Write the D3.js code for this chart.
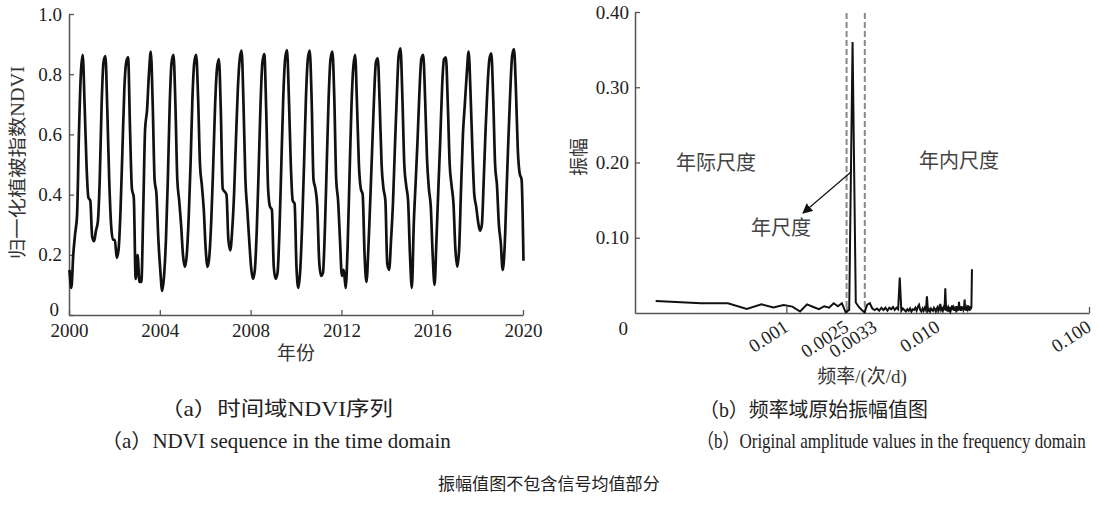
<!DOCTYPE html>
<html>
<head>
<meta charset="utf-8">
<script src="https://cdn.jsdelivr.net/npm/d3@7"></script>
<style>
  html, body { margin: 0; padding: 0; background: #fff; }
  svg { display: block; }
  .serif { font-family: "Liberation Serif", "Noto Sans CJK SC", serif; }
  .cjk { font-family: "Liberation Serif", "Noto Sans CJK SC", sans-serif; }
</style>
</head>
<body>
<svg id="chart" width="1101" height="505"></svg>
<script>
// ---------------- DATA ----------------
// (a) monthly NDVI, Jan 2000 ... Dec 2019, plus Jan 2020
const startYear = 2000;
const ndviMonthly = [
  0.15, 0.09, 0.20, 0.27, 0.33, 0.60, 0.80, 0.864, 0.70, 0.50, 0.39, 0.38,  // 2000
  0.26, 0.245, 0.28, 0.31, 0.45, 0.70, 0.84, 0.86, 0.68, 0.45, 0.30, 0.25,  // 2001
  0.25, 0.19, 0.22, 0.35, 0.55, 0.75, 0.84, 0.856, 0.62, 0.42, 0.39, 0.12,  // 2002
  0.20, 0.11, 0.11, 0.35, 0.62, 0.68, 0.80, 0.875, 0.70, 0.45, 0.40, 0.25,  // 2003
  0.15, 0.08, 0.13, 0.25, 0.45, 0.70, 0.84, 0.864, 0.70, 0.45, 0.38, 0.30,  // 2004
  0.20, 0.16, 0.20, 0.32, 0.50, 0.72, 0.84, 0.864, 0.72, 0.50, 0.43, 0.35,  // 2005
  0.22, 0.16, 0.20, 0.32, 0.50, 0.70, 0.82, 0.85, 0.68, 0.42, 0.41, 0.40,   // 2006
  0.25, 0.215, 0.28, 0.40, 0.58, 0.75, 0.85, 0.878, 0.70, 0.45, 0.35, 0.25, // 2007
  0.16, 0.12, 0.15, 0.28, 0.48, 0.70, 0.84, 0.867, 0.68, 0.42, 0.36, 0.35,  // 2008
  0.16, 0.12, 0.14, 0.28, 0.50, 0.72, 0.85, 0.88, 0.72, 0.50, 0.38, 0.37,   // 2009
  0.16, 0.09, 0.15, 0.30, 0.50, 0.72, 0.85, 0.878, 0.72, 0.45, 0.42, 0.36,  // 2010
  0.18, 0.13, 0.14, 0.28, 0.50, 0.72, 0.85, 0.875, 0.72, 0.45, 0.38, 0.25,  // 2011
  0.13, 0.15, 0.09, 0.22, 0.45, 0.68, 0.82, 0.864, 0.70, 0.50, 0.42, 0.40,  // 2012
  0.20, 0.11, 0.22, 0.38, 0.55, 0.72, 0.84, 0.853, 0.70, 0.50, 0.42, 0.38,  // 2013
  0.17, 0.15, 0.25, 0.37, 0.55, 0.72, 0.86, 0.886, 0.72, 0.50, 0.43, 0.38,  // 2014
  0.20, 0.09, 0.30, 0.44, 0.58, 0.74, 0.85, 0.864, 0.72, 0.52, 0.42, 0.36,  // 2015
  0.20, 0.10, 0.25, 0.42, 0.58, 0.76, 0.85, 0.856, 0.70, 0.50, 0.43, 0.37,  // 2016
  0.22, 0.16, 0.22, 0.42, 0.60, 0.70, 0.80, 0.875, 0.74, 0.55, 0.40, 0.36,  // 2017
  0.31, 0.28, 0.30, 0.45, 0.62, 0.76, 0.85, 0.869, 0.72, 0.50, 0.43, 0.30,  // 2018
  0.24, 0.15, 0.22, 0.40, 0.58, 0.74, 0.86, 0.883, 0.75, 0.55, 0.47, 0.45,  // 2019
  0.18                                                                      // 2020
];
const yearTicks = [2000, 2004, 2008, 2012, 2016, 2020];
const ndviTicks = [0, 0.2, 0.4, 0.6, 0.8, 1.0];

// (b) amplitude spectrum, harmonic k = 1..123 of a 20-year (7300 d) record
const recordDays = 7300;
const amplitude = [
  0.016, 0.013, 0.013, 0.0055, 0.0115, 0.0075, 0.0105, 0.0085, 0.002, 0.0115,
  0.008, 0.005, 0.009, 0.007, 0.013, 0.009, 0.013, 0.001, 0.004, 0.360,
  0.014, 0.008, 0.004, 0.001, 0.011, 0.013, 0.006, 0.004, 0.006, 0.003,
  0.007, 0.004, 0.007, 0.003, 0.007, 0.005, 0.008, 0.004, 0.007, 0.005,
  0.047, 0.003, 0.006, 0.004, 0.002, 0.005, 0.003, 0.006, 0.002, 0.005,
  0.004, 0.007, 0.003, 0.008, 0.011, 0.004, 0.002, 0.006, 0.003, 0.007,
  0.004, 0.022, 0.003, 0.005, 0.002, 0.006, 0.004, 0.003, 0.007, 0.005,
  0.002, 0.006, 0.008, 0.003, 0.005, 0.012, 0.004, 0.006, 0.003, 0.007,
  0.004, 0.033, 0.003, 0.006, 0.002, 0.007, 0.004, 0.008, 0.003, 0.006,
  0.010, 0.004, 0.007, 0.003, 0.008, 0.005, 0.009, 0.004, 0.006, 0.003,
  0.015, 0.004, 0.007, 0.003, 0.009, 0.005, 0.008, 0.004, 0.006, 0.018,
  0.004, 0.008, 0.003, 0.007, 0.005, 0.010, 0.004, 0.007, 0.003, 0.009,
  0.005, 0.008, 0.058
];
const freqTicks = [0.001, 0.0025, 0.0033, 0.010, 0.100];
const freqTickLabels = ["0.001", "0.0025", "0.0033", "0.010", "0.100"];
const ampTicks = [0.10, 0.20, 0.30, 0.40];
const scaleBounds = [0.0025, 0.0033];   // annual-scale band (dashed lines)

// ---------------- DRAW ----------------
const svg = d3.select("#chart");
svg.append("rect").attr("width", 1101).attr("height", 505).attr("fill", "#fff");

const axisColor = "#555";
const textColor = "#222";

function styleAxis(g) {
  g.select(".domain").attr("stroke", axisColor).attr("stroke-width", 1.5);
  g.selectAll(".tick line").attr("stroke", axisColor).attr("stroke-width", 1.3);
  g.selectAll(".tick text").attr("fill", textColor)
    .style("font-family", "'Liberation Serif', serif").style("font-size", "19px");
}

// ----- (a) time domain -----
const xA = d3.scaleLinear().domain([2000, 2020]).range([69, 523]);
const yA = d3.scaleLinear().domain([0, 1]).range([315, 14]);

const ndviPts = ndviMonthly.map((v, i) => ({ t: startYear + (i + 0.25) / 12, v }));

svg.append("g").attr("transform", `translate(0,${yA(0)})`)
  .call(d3.axisBottom(xA).tickValues(yearTicks).tickFormat(d3.format("d"))
    .tickSize(-5).tickSizeOuter(0).tickPadding(9))
  .call(styleAxis);

svg.append("g").attr("transform", `translate(${xA(2000)},0)`)
  .call(d3.axisLeft(yA).tickValues(ndviTicks)
    .tickFormat(d => d === 0 ? "0" : d3.format(".1f")(d))
    .tickSize(-5).tickSizeOuter(0).tickPadding(7))
  .call(styleAxis)
  .call(g => g.selectAll(".tick").filter(d => d === 0).select("text")
    .attr("dx", -3).attr("y", -6));

svg.append("path").datum(ndviPts)
  .attr("fill", "none").attr("stroke", "#111").attr("stroke-width", 2.7)
  .attr("stroke-linejoin", "round")
  .attr("d", d3.line().x(d => xA(d.t)).y(d => yA(d.v)).curve(d3.curveMonotoneX));

svg.append("text").attr("class", "cjk")
  .attr("transform", `translate(18,${(yA(0) + yA(1)) / 2 - 2}) rotate(-90)`)
  .attr("text-anchor", "middle").attr("dominant-baseline", "central")
  .attr("textLength", 193).attr("lengthAdjust", "spacingAndGlyphs")
  .attr("fill", "#333").style("font-size", "18px")
  .text("归一化植被指数NDVI");

svg.append("text").attr("class", "cjk")
  .attr("x", (xA(2000) + xA(2020)) / 2).attr("y", 353)
  .attr("text-anchor", "middle").attr("dominant-baseline", "central")
  .attr("fill", "#333").style("font-size", "19px")
  .text("年份");

// ----- (b) frequency domain -----
const xB = d3.scaleLog().domain([0.0001, 0.1]).range([635, 1089]);
const yB = d3.scaleLinear().domain([0, 0.4]).range([313, 12]);

const specPts = amplitude.map((a, i) => ({ f: (i + 1) / recordDays, a }));

// dashed band lines
svg.selectAll(".band").data(scaleBounds).enter().append("line")
  .attr("x1", d => xB(d)).attr("x2", d => xB(d))
  .attr("y1", yB(0.4) + 1).attr("y2", yB(0))
  .attr("stroke", "#888").attr("stroke-width", 2).attr("stroke-dasharray", "6,3");

const labelShift = { "0.0033": 10 };
const gxB = svg.append("g").attr("transform", `translate(0,${yB(0)})`)
  .call(d3.axisBottom(xB).tickValues(freqTicks)
    .tickFormat((d, i) => freqTickLabels[i])
    .tickSize(-6).tickSizeOuter(0))
  .call(styleAxis);
gxB.selectAll(".tick text")
  .attr("x", 0).attr("y", 0).attr("dy", 0)
  .attr("transform", function () {
    const s = labelShift[this.textContent] || 0;
    return `translate(${3 + s},17) rotate(-33)`;
  })
  .style("text-anchor", "end");

svg.append("g").attr("transform", `translate(${xB(0.0001)},0)`)
  .call(d3.axisLeft(yB).tickValues(ampTicks).tickFormat(d3.format(".2f"))
    .tickSize(-5).tickSizeOuter(0).tickPadding(6))
  .call(styleAxis);

svg.append("text").attr("class", "serif")
  .attr("x", xB(0.0001) - 7).attr("y", yB(0) + 15)
  .attr("text-anchor", "end").attr("dominant-baseline", "central")
  .attr("fill", textColor).style("font-size", "19px").text("0");

svg.append("path").datum(specPts)
  .attr("fill", "none").attr("stroke", "#111").attr("stroke-width", 2)
  .attr("stroke-linejoin", "miter")
  .attr("d", d3.line().x(d => xB(d.f)).y(d => yB(d.a)));

svg.append("text").attr("class", "cjk")
  .attr("transform", `translate(579,157) rotate(-90)`)
  .attr("text-anchor", "middle").attr("dominant-baseline", "central")
  .attr("fill", "#333").style("font-size", "19px").text("振幅");

svg.append("text").attr("class", "cjk")
  .attr("x", (xB(0.0001) + xB(0.1)) / 2).attr("y", 376)
  .attr("text-anchor", "middle").attr("dominant-baseline", "central")
  .attr("fill", "#333").style("font-size", "19px").text("频率/(次/d)");

// annotations
const notes = [
  { text: "年际尺度", x: 716, y: 163 },
  { text: "年内尺度", x: 959, y: 161 },
  { text: "年尺度", x: 781, y: 228 }
];
svg.selectAll(".note").data(notes).enter().append("text")
  .attr("class", "cjk")
  .attr("x", d => d.x).attr("y", d => d.y)
  .attr("text-anchor", "middle").attr("dominant-baseline", "central")
  .attr("fill", "#444").style("font-size", "20px").text(d => d.text);

svg.append("defs").append("marker")
  .attr("id", "arrowhead").attr("viewBox", "0 0 10 10")
  .attr("refX", 9).attr("refY", 5)
  .attr("markerWidth", 10).attr("markerHeight", 10)
  .attr("markerUnits", "userSpaceOnUse")
  .attr("orient", "auto")
  .append("path").attr("d", "M0,0 L10,5 L0,10 z").attr("fill", "#111");

svg.append("line")
  .attr("x1", 851).attr("y1", 172).attr("x2", 803).attr("y2", 213)
  .attr("stroke", "#111").attr("stroke-width", 1.2)
  .attr("marker-end", "url(#arrowhead)");

// ----- captions (horizontally scaled to the reference widths) -----
const captions = [
  { text: "（a）时间域NDVI序列", x: 160, y: 410, len: 233, size: 20 },
  { text: "（a）NDVI sequence in the time domain", x: 101, y: 441, len: 350, size: 20 },
  { text: "（b）频率域原始振幅值图", x: 699, y: 410, len: 229, size: 20 },
  { text: "（b）Original amplitude values in the frequency domain", x: 697, y: 441, len: 389, size: 20 },
  { text: "振幅值图不包含信号均值部分", x: 438, y: 485, len: 222, size: 17 }
];
captions.forEach(c => {
  const t = svg.append("text").attr("class", "cjk")
    .attr("x", 0).attr("y", 0)
    .attr("dominant-baseline", "central")
    .attr("fill", "#222").style("font-size", c.size + "px").text(c.text);
  const w = t.node().getComputedTextLength() || c.len;
  const sx = c.len / w;
  t.attr("transform", `translate(${c.x},${c.y}) scale(${sx},1)`);
});
</script>
</body>
</html>
